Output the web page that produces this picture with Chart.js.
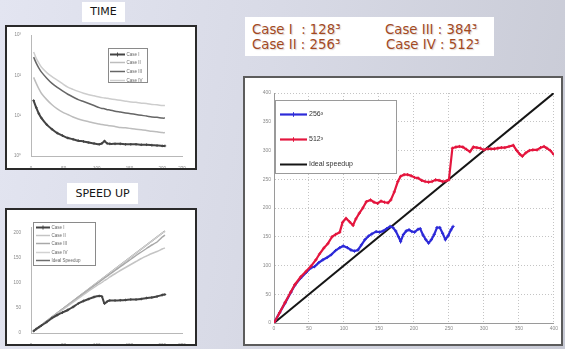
<!DOCTYPE html>
<html>
<head>
<meta charset="utf-8">
<script src="https://cdn.jsdelivr.net/npm/chart.js@4.4.1/dist/chart.umd.min.js"></script>
<style>
  html, body { margin: 0; padding: 0; }
  body {
    width: 565px; height: 349px; overflow: hidden; position: relative;
    background: linear-gradient(100deg, #e3e5f1 0%, #d8dae6 45%, #c8cad5 100%);
    font-family: "DejaVu Sans", Verdana, sans-serif;
  }
  .tag {
    position: absolute; background: #fff; color: #151515;
    font-size: 11px; text-align: center; line-height: 20px;
  }
  .panel { position: absolute; background: #fff; box-sizing: border-box; }
  .panel canvas { position: absolute; left: 0; top: 0; }
  .soft canvas { filter: blur(0.5px); }
  #cases {
    position: absolute; left: 245px; top: 17px; width: 249px; height: 39px;
    background: #fff; color: #a3491f; font-size: 13.3px; line-height: 15px;
    text-shadow: 1px 1px 1px rgba(90, 60, 40, 0.22);
  }
  #cases span { position: absolute; white-space: pre; }
</style>
</head>
<body>

<div class="tag" style="left:82px;top:2px;width:43px;height:20px;">TIME</div>
<div class="panel soft" style="left:5px;top:25px;width:192px;height:145px;border:2px solid #2a2a2a;">
  <canvas id="timeChart" width="188" height="141"></canvas>
</div>

<div class="tag" style="left:67px;top:183px;width:71px;height:21px;line-height:21px;">SPEED UP</div>
<div class="panel soft" style="left:5px;top:208px;width:192px;height:138px;border:2px solid #2a2a2a;">
  <canvas id="speedupSmall" width="188" height="134"></canvas>
</div>

<div id="cases">
  <span style="left:7px;top:5px;">Case I  : 128³</span>
  <span style="left:140px;top:5px;">Case III : 384³</span>
  <span style="left:7px;top:20px;">Case II : 256³</span>
  <span style="left:141px;top:20px;">Case IV : 512³</span>
</div>

<div class="panel" style="left:243px;top:76px;width:320px;height:270px;border:2px solid #5c5c5c;">
  <canvas id="speedupMain" width="316" height="266"></canvas>
</div>

<script>
// ---- Main speedup chart: processors vs speedup ----
const procs256 = [0, 8, 16, 24, 30, 38, 46, 53, 58, 64, 70, 76, 82, 88, 94, 99, 105, 110, 115, 120,
  125, 130, 135, 140, 146, 151, 156, 161, 166, 170, 174, 178, 181, 185, 189, 193, 197, 201, 206, 209,
  213, 217, 221, 225, 229, 233, 237, 241, 245, 249, 253, 256];
const speedup256 = [0, 18, 35, 53, 66, 78, 88, 96, 98, 105, 110, 114, 119, 126, 131, 134, 131, 127, 125, 127,
  136, 145, 151, 155, 159, 158, 160, 164, 168, 166, 160, 150, 142, 154, 160, 162, 159, 158, 163, 164,
  153, 145, 139, 145, 154, 166, 166, 156, 145, 152, 162, 168];

const procs512 = [0, 8, 16, 24, 30, 38, 46, 53, 60, 65, 71, 77, 83, 88, 94, 98, 103, 108, 113, 117,
  122, 127, 132, 138, 143, 148, 153, 158, 163, 167, 172, 177, 181, 186, 191, 196, 201, 206, 211, 216,
  221, 226, 231, 236, 241, 246, 250, 255, 260, 265, 270, 275, 280, 285, 290, 295, 300, 305, 310, 315,
  320, 325, 330, 336, 342, 347, 351, 355, 360, 365, 370, 376, 381, 386, 390, 395, 400];
const speedup512 = [0, 18, 36, 54, 67, 80, 90, 99, 110, 120, 130, 138, 150, 154, 158, 175, 182, 176, 170, 181,
  191, 200, 211, 214, 210, 208, 212, 210, 209, 214, 228, 246, 255, 258, 258, 256, 253, 252, 248, 246,
  245, 246, 249, 248, 246, 247, 249, 304, 306, 307, 306, 302, 298, 306, 305, 304, 301, 303, 303, 303,
  304, 305, 305, 307, 309, 300, 294, 290, 296, 300, 301, 301, 305, 307, 304, 300, 293];

const idealProcs = [0, 400];
const idealSpeedup = [0, 400];
const mainTickStep = 50;

// ---- Small panels: shared processor counts ----
const smallProcs = [4, 8, 12, 16, 24, 32, 40, 48, 56, 64, 72, 80, 88, 96, 104, 108, 112, 116, 120, 128,
  136, 144, 152, 160, 168, 176, 184, 192, 200, 204];

// wall time per case (log axis)
const timeCase1 = [23.7, 15.8, 11.2, 8.7, 6.0, 4.6, 3.7, 3.2, 2.8, 2.6, 2.4, 2.3, 2.15, 2.05, 1.95, 2.05, 2.35, 2.05, 2.0, 2.0,
  2.0, 1.95, 1.95, 1.95, 1.9, 1.9, 1.86, 1.82, 1.78, 1.78];
const timeCase2 = [89, 63, 46, 35.5, 25, 18.6, 14.8, 12.3, 10.7, 9.3, 8.3, 7.6, 7.1, 6.6, 6.2, 6.0, 5.9, 5.75, 5.6, 5.4,
  5.1, 5.0, 4.8, 4.6, 4.5, 4.3, 4.1, 4.0, 3.8, 3.8];
const timeCase3 = [282, 200, 151, 120, 85, 63, 50, 41, 34, 29, 25, 22.4, 20, 17.8, 15.8, 15.1, 14.8, 14.1, 13.8, 12.9,
  12.3, 11.7, 11.2, 10.7, 10.2, 9.8, 9.3, 9.1, 8.7, 8.7];
const timeCase4 = [380, 263, 200, 158, 117, 93, 76, 62, 51, 45, 40, 36, 33, 31, 29, 28, 27.5, 27, 26.3, 25.1,
  24, 22.9, 21.9, 21.4, 20.4, 20, 19, 18.6, 17.8, 17.8];

// speedup per case
const spCase1 = [4, 8, 11.5, 15, 22, 30, 36, 41, 46, 52, 59, 64, 68, 72, 74, 73, 59, 63, 65, 65,
  65.5, 66, 67, 67, 68, 70, 71, 73, 76, 77];
const spCase2 = [4, 8, 12, 15.8, 23.6, 31.3, 39, 46.5, 54, 61.5, 69, 76.5, 84, 91, 98, 101, 105, 108, 112, 118.5,
  125, 131, 137, 143, 149, 154, 159, 163, 168, 170];
const spCase3 = [4, 8, 12, 16, 24, 32, 39.8, 47.7, 55.5, 63.4, 71.2, 79, 86.8, 94.5, 102, 106, 110, 113.5, 117.5, 125,
  132.5, 140, 147.5, 155, 162, 169, 176, 182, 192, 196];
const spCase4 = [4, 8, 12, 16, 24, 32, 40, 48, 56, 64, 72, 80, 88, 96, 104, 108, 112, 116, 120, 128,
  136, 144, 152, 160, 168, 176, 184, 192, 200, 203];
const spIdeal = [4, 8, 12, 16, 24, 32, 40, 48, 56, 64, 72, 80, 88, 96, 104, 108, 112, 116, 120, 128,
  136, 144, 152, 160, 168, 176, 184, 192, 200, 204];

const caseLabels = ['Case I', 'Case II', 'Case III', 'Case IV'];
const smallTickStep = 50;
const timeDecades = [1, 10, 100, 1000];
const speedupSmallTicks = [0, 50, 100, 150, 200];

const pts = (xs, ys) => xs.map((x, i) => ({ x: x, y: ys[i] }));

// Framed legend drawn inside the plot area
const boxLegend = {
  id: 'boxLegend',
  afterDraw(chart, args, o) {
    if (!o || o.w === undefined) return;
    const ctx = chart.ctx;
    ctx.save();
    ctx.fillStyle = '#fff';
    ctx.fillRect(o.x, o.y, o.w, o.h);
    ctx.strokeStyle = o.border;
    ctx.lineWidth = 1;
    ctx.strokeRect(o.x + 0.5, o.y + 0.5, o.w - 1, o.h - 1);
    ctx.font = o.font;
    ctx.textBaseline = 'middle';
    chart.data.datasets.forEach((ds, i) => {
      const cy = Math.round(o.y + o.first + i * o.gap) + 0.5;
      const x0 = o.x + o.sx;
      ctx.strokeStyle = ds.borderColor;
      ctx.lineWidth = ds.borderWidth;
      ctx.beginPath();
      ctx.moveTo(x0, cy);
      ctx.lineTo(x0 + o.len, cy);
      ctx.stroke();
      if (ds.pointRadius) {
        const cx = x0 + o.len / 2, r = ds.pointRadius + 0.7;
        ctx.lineWidth = 1;
        ctx.beginPath();
        ctx.moveTo(cx - r, cy); ctx.lineTo(cx + r, cy);
        ctx.moveTo(cx, cy - r); ctx.lineTo(cx, cy + r);
        ctx.stroke();
      }
      ctx.fillStyle = o.color;
      ctx.fillText(ds.label, x0 + o.len + o.tg, cy);
    });
    ctx.restore();
  }
};

const baseOpts = {
  responsive: false,
  animation: false,
  events: [],
};

// ---- main chart ----
new Chart(document.getElementById('speedupMain'), {
  type: 'line',
  data: {
    datasets: [
      { label: '256³', data: pts(procs256, speedup256), borderColor: '#2d2ad8', backgroundColor: '#2d2ad8',
        borderWidth: 2.2, pointStyle: 'cross', pointRadius: 1.6, pointBorderWidth: 1, tension: 0, order: 2 },
      { label: '512³', data: pts(procs512, speedup512), borderColor: '#e4163e', backgroundColor: '#e4163e',
        borderWidth: 2.2, pointStyle: 'cross', pointRadius: 1.6, pointBorderWidth: 1, tension: 0, order: 1 },
      { label: 'Ideal speedup', data: pts(idealProcs, idealSpeedup), borderColor: '#151515',
        borderWidth: 2, pointRadius: 0, tension: 0, order: 3 }
    ]
  },
  options: Object.assign({}, baseOpts, {
    layout: { padding: { top: 15, right: 6, left: 0, bottom: 0 } },
    plugins: {
      legend: { display: false }, tooltip: { enabled: false },
      boxLegend: { x: 30, y: 22, w: 122, h: 74, first: 14, gap: 25, sx: 5, len: 27, tg: 2,
        font: '7px "Liberation Sans", Arial, sans-serif', color: '#333', border: '#9a9a9a' }
    },
    scales: {
      x: { type: 'linear', min: 0, max: 400,
        ticks: { stepSize: mainTickStep, autoSkip: false, maxRotation: 0, padding: 3, color: '#8a8a8a',
          font: { size: 5, family: 'Liberation Sans' } },
        grid: { color: '#c4c4c4', drawTicks: false },
        border: { color: '#9a9a9a', dash: [1, 2] },
        afterFit: s => { s.height = 21; } },
      y: { type: 'linear', min: 0, max: 400,
        ticks: { stepSize: mainTickStep, autoSkip: false, padding: 3, color: '#8a8a8a',
          font: { size: 5, family: 'Liberation Sans' } },
        grid: { color: '#c4c4c4', drawTicks: false },
        border: { color: '#9a9a9a', dash: [1, 2] },
        afterFit: s => { s.width = 29; } }
    }
  }),
  plugins: [boxLegend]
});

const supDigits = ['⁰', '¹', '²', '³', '⁴'];
const smallTickFont = { size: 4.5, family: 'Liberation Sans' };

// ---- TIME panel ----
const timeSeries = [timeCase1, timeCase2, timeCase3, timeCase4];
const timeColors = ['#444', '#bdbdbd', '#666', '#cdcdcd'];
new Chart(document.getElementById('timeChart'), {
  type: 'line',
  data: {
    datasets: timeSeries.map((ys, k) => ({
      label: caseLabels[k], data: pts(smallProcs, ys), borderColor: timeColors[k],
      borderWidth: k === 0 ? 2 : 1.5, pointStyle: 'cross', pointRadius: k === 0 ? 1.3 : 0,
      pointBorderWidth: 1, tension: 0.2
    }))
  },
  options: Object.assign({}, baseOpts, {
    layout: { padding: { top: 8, right: 13, left: 0, bottom: 0 } },
    plugins: {
      legend: { display: false }, tooltip: { enabled: false },
      boxLegend: { x: 101, y: 21, w: 40, h: 35, first: 5.5, gap: 8.7, sx: 2, len: 15, tg: 1.5,
        font: '4.5px "Liberation Sans", Arial, sans-serif', color: '#666', border: '#8a8a8a' }
    },
    scales: {
      x: { type: 'linear', min: 0, max: 230,
        ticks: { stepSize: smallTickStep, autoSkip: false, maxRotation: 0, padding: 2, color: '#888', font: smallTickFont },
        grid: { display: false },
        border: { color: '#b8b8b8' },
        afterFit: s => { s.height = 12; } },
      y: { type: 'logarithmic', min: 1, max: 1000,
        afterBuildTicks: s => { s.ticks = timeDecades.map(v => ({ value: v })); },
        ticks: { autoSkip: false, padding: 2, color: '#888', font: smallTickFont,
          callback: v => '10' + supDigits[Math.round(Math.log10(v))] },
        grid: { display: false },
        border: { color: '#b8b8b8' },
        afterFit: s => { s.width = 24; } }
    }
  }),
  plugins: [boxLegend]
});

// ---- SPEED UP panel ----
const spSeries = [spCase1, spCase2, spCase3, spCase4, spIdeal];
const spLabels = caseLabels.concat(['Ideal Speedup']);
const spColors = ['#444', '#c4c4c4', '#a8a8a8', '#d2d2d2', '#6e6e6e'];
new Chart(document.getElementById('speedupSmall'), {
  type: 'line',
  data: {
    datasets: spSeries.map((ys, k) => ({
      label: spLabels[k], data: pts(smallProcs, ys), borderColor: spColors[k],
      borderWidth: k === 0 ? 2 : 1.5, pointStyle: 'cross', pointRadius: k === 0 ? 1.3 : 0,
      pointBorderWidth: 1, tension: 0.1
    }))
  },
  options: Object.assign({}, baseOpts, {
    layout: { padding: { top: 17, right: 13, left: 0, bottom: 0 } },
    plugins: {
      legend: { display: false }, tooltip: { enabled: false },
      boxLegend: { x: 26, y: 12, w: 63, h: 44, first: 5, gap: 8.2, sx: 3, len: 14, tg: 1.5,
        font: '4.5px "Liberation Sans", Arial, sans-serif', color: '#666', border: '#8a8a8a' }
    },
    scales: {
      x: { type: 'linear', min: 0, max: 230,
        ticks: { stepSize: smallTickStep, autoSkip: false, maxRotation: 0, padding: 2, color: '#888', font: smallTickFont },
        grid: { display: false },
        border: { color: '#b8b8b8' },
        afterFit: s => { s.height = 11; } },
      y: { type: 'linear', min: 0, max: 212,
        afterBuildTicks: s => { s.ticks = speedupSmallTicks.map(v => ({ value: v })); },
        ticks: { autoSkip: false, padding: 2, color: '#888', font: smallTickFont },
        grid: { display: false },
        border: { color: '#b8b8b8' },
        afterFit: s => { s.width = 24; } }
    }
  }),
  plugins: [boxLegend]
});
</script>
</body>
</html>
